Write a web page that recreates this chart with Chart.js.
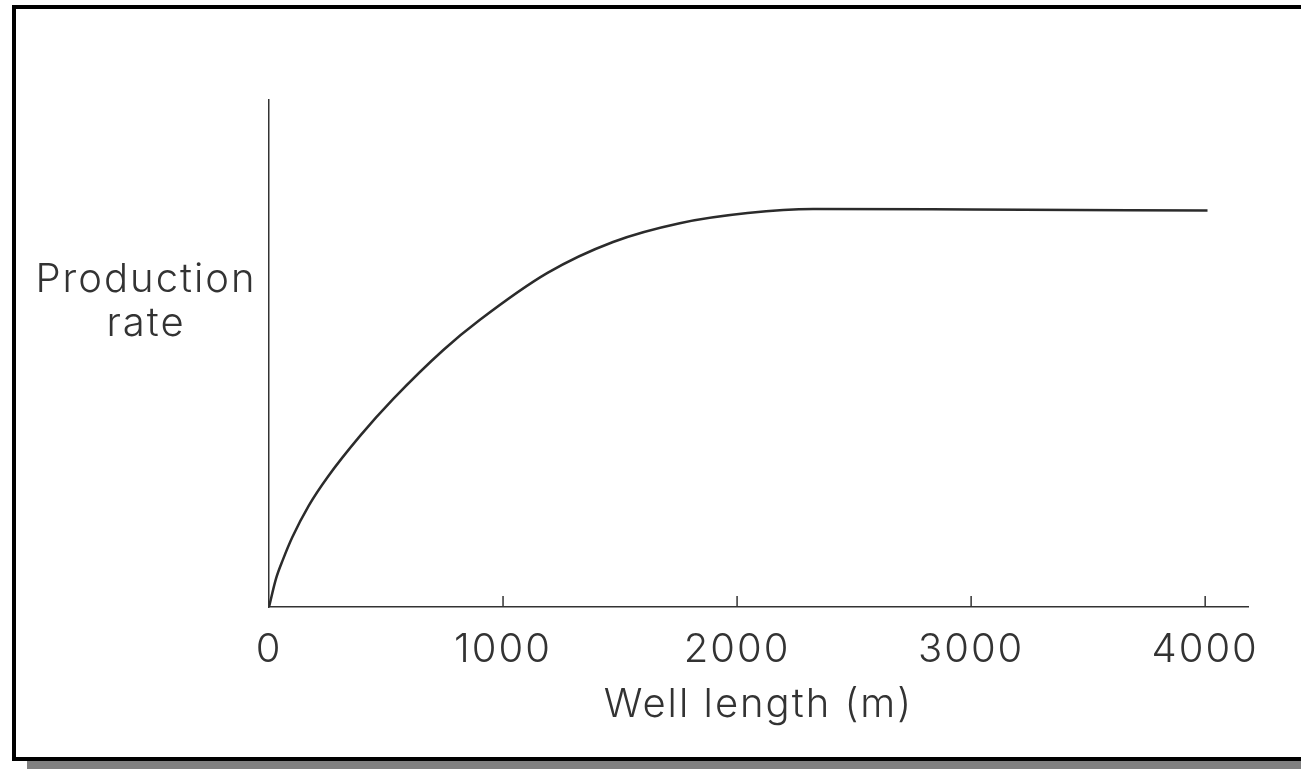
<!DOCTYPE html>
<html>
<head>
<meta charset="utf-8">
<script src="https://cdn.jsdelivr.net/npm/chart.js@4.4.1/dist/chart.umd.min.js"></script>
<style>
  html, body { margin: 0; padding: 0; background: #fff; width: 1301px; height: 769px; overflow: hidden; }
  #frame { position: absolute; left: 12px; top: 5px; width: 1400px; height: 756px; border: 4px solid #000; box-sizing: border-box; }
  #shadow { position: absolute; left: 27px; top: 761px; width: 1300px; height: 8px; background: #808080; }
  #c { position: absolute; left: 0; top: 0; }
</style>
</head>
<body>
<div id="frame"></div>
<div id="shadow"></div>
<canvas id="c" width="1301" height="769"></canvas>
<script>
// Well length (m)
const wellLength = [0, 30, 60, 100, 170, 250, 390, 530, 745, 900, 1190, 1470, 1755, 2045, 2325, 3000, 4010];
// Production rate (relative units, axis 0–100)
const productionRate = [0, 5.6, 9.4, 13.8, 20.0, 25.6, 33.8, 41.0, 50.7, 56.6, 65.9, 72.0, 75.7, 77.7, 78.5, 78.4, 78.2];
const xTickValues = [0, 1000, 2000, 3000, 4000];
const xTickLabels = ['0', '1000', '2000', '3000', '4000'];
const xTitle = 'Well length (m)';
const yTitleLines = ['Production', 'rate'];

const FONT = 'Inter, "Liberation Sans", Arial, sans-serif';
const WEIGHT = 300;
const SIZE = 40;
const SPACING = '2px';
const TEXT_COLOR = '#333333';
const AXIS_COLOR = '#333333';

const textSpacing = {
  id: 'textSpacing',
  beforeDraw(chart) { chart.ctx.letterSpacing = SPACING; }
};

const innerTicks = {
  id: 'innerTicks',
  afterDraw(chart) {
    const ctx = chart.ctx, xs = chart.scales.x, area = chart.chartArea;
    ctx.save();
    ctx.strokeStyle = AXIS_COLOR;
    ctx.lineWidth = 1.5;
    xTickValues.forEach(v => {
      if (v === xs.min) return;
      const px = xs.getPixelForValue(v);
      ctx.beginPath();
      ctx.moveTo(px, area.bottom);
      ctx.lineTo(px, area.bottom - 11);
      ctx.stroke();
    });
    // y-axis title (horizontal, two lines)
    ctx.fillStyle = TEXT_COLOR;
    ctx.font = WEIGHT + ' ' + SIZE + 'px ' + FONT;
    ctx.letterSpacing = SPACING;
    ctx.textAlign = 'center';
    ctx.textBaseline = 'alphabetic';
    yTitleLines.forEach((t, i) => ctx.fillText(t, 146, 292 + i * 44));
    ctx.restore();
  }
};

new Chart(document.getElementById('c'), {
  type: 'line',
  data: {
    datasets: [{
      data: wellLength.map((x, i) => ({ x, y: productionRate[i] })),
      borderColor: '#2b2b2b',
      borderWidth: 2.5,
      pointRadius: 0,
      fill: false,
      cubicInterpolationMode: 'monotone'
    }]
  },
  options: {
    responsive: false,
    animation: false,
    devicePixelRatio: 1,
    layout: { padding: { left: 269, right: 53, top: 100, bottom: 0 } },
    plugins: { legend: { display: false }, tooltip: { enabled: false } },
    scales: {
      x: {
        type: 'linear',
        min: 0,
        max: 4183,
        afterBuildTicks: s => { s.ticks = xTickValues.map(v => ({ value: v })); },
        afterFit: s => { s.height = 162; },
        grid: { display: true, drawOnChartArea: false, drawTicks: false },
        border: { display: true, color: AXIS_COLOR, width: 1.5 },
        ticks: {
          padding: 19, color: TEXT_COLOR, font: { family: FONT, size: SIZE, weight: WEIGHT },
          maxRotation: 0, autoSkip: false,
          callback: v => xTickLabels[xTickValues.indexOf(v)] ?? String(v)
        },
        title: { display: true, text: xTitle, color: TEXT_COLOR, font: { family: FONT, size: SIZE, weight: WEIGHT }, padding: { top: 0, bottom: 40 } }
      },
      y: {
        type: 'linear',
        min: 0,
        max: 100,
        afterFit: s => { s.width = 0; },
        grid: { display: true, drawOnChartArea: false, drawTicks: false },
        border: { display: true, color: AXIS_COLOR, width: 1.5 },
        ticks: { display: false }
      }
    }
  },
  plugins: [textSpacing, innerTicks]
});
</script>
</body>
</html>
